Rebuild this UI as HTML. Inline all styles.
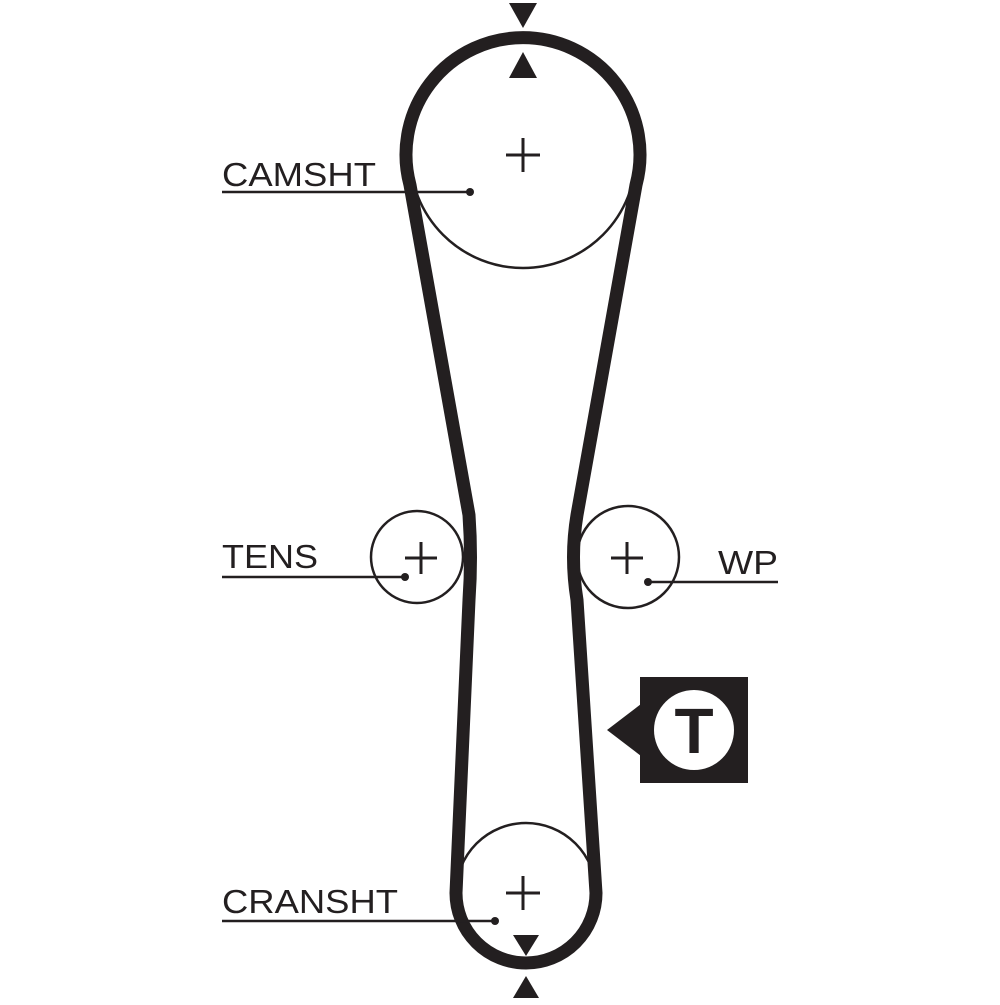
<!DOCTYPE html>
<html><head><style>html,body{margin:0;padding:0;background:#fff}</style></head>
<body>
<svg width="1000" height="1000" viewBox="0 0 1000 1000" xmlns="http://www.w3.org/2000/svg">
<g fill="none" stroke="#231f20">
<circle cx="523" cy="155" r="113" stroke-width="2.5"/>
<circle cx="417" cy="557" r="46" stroke-width="2.5"/>
<circle cx="628" cy="557" r="51" stroke-width="2.5"/>
<circle cx="526" cy="893" r="70" stroke-width="2.5"/>
<path d="M456 893 L469 600 Q472 557 469 515 L410 185 A117 117 0 1 1 636 185 L577 515 Q570 557 577 600 L596 893 A70 70 0 0 1 456 893 Z" stroke-width="13" stroke-linejoin="round"/>
<g stroke-width="3">
<path d="M523 138v34M506 155h34"/>
<path d="M421 542v32M405 558h32"/>
<path d="M627 542v32M611 558h32"/>
<path d="M523 876v34M506 893h34"/>
<path d="M222 192h248M222 577h183M648 582h130M222 921h273" stroke-width="2.5"/>
</g>
</g>
<g fill="#231f20">
<circle cx="470" cy="192" r="4"/><circle cx="405" cy="577" r="4"/><circle cx="648" cy="582" r="4"/><circle cx="495" cy="921" r="4"/>
<polygon points="509,3 537,3 523,28"/>
<polygon points="509,78 537,78 523,52"/>
<polygon points="513,935 539,935 526,956"/>
<polygon points="513,998 539,998 526,976"/>
<rect x="640" y="677" width="108" height="106"/>
<polygon points="607,730 641,704 641,756"/>
</g>
<circle cx="694" cy="730" r="40" fill="#fff"/>
<g font-family="Liberation Sans, sans-serif" fill="#231f20">
<text x="222" y="186" font-size="33" textLength="154" lengthAdjust="spacingAndGlyphs">CAMSHT</text>
<text x="222" y="568" font-size="33" textLength="96" lengthAdjust="spacingAndGlyphs">TENS</text>
<text x="718" y="574" font-size="33" textLength="60" lengthAdjust="spacingAndGlyphs">WP</text>
<text x="222" y="913" font-size="33" textLength="176" lengthAdjust="spacingAndGlyphs">CRANSHT</text>
<text x="694" y="753" font-size="64" font-weight="bold" text-anchor="middle">T</text>
</g>
</svg>
</body></html>
